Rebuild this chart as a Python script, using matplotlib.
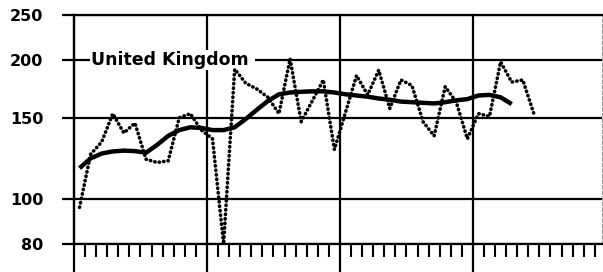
#!/usr/bin/env python

########################################################################
# United Kingdom monthly index (log scale) with smoothed trend
########################################################################

import numpy as np
import matplotlib
matplotlib.use('Agg')
import matplotlib.pyplot as plt

# monthly values, plotted at mid-month
monthly = [96, 125, 133, 153, 139, 146, 122, 120, 121, 150, 153, 141,
           135, 80, 191, 178, 173, 166, 153, 201, 147, 163, 181, 128,
           154, 185, 168, 190, 157, 181, 176, 147, 137, 175, 162, 135,
           153, 151, 198, 179, 181, 153]
trend = [116.7, 122.5, 125.5, 126.8, 127.3, 127, 126, 131, 137, 141, 143, 142.5,
         141, 141, 143, 149, 156, 163, 168.5, 170, 170.6, 171, 171, 170,
         168.5, 167.5, 166.5, 165, 164, 162.5, 162, 161.5, 161, 162, 163.5, 164.5,
         167.5, 168, 166, 160.5]
yticks = [80, 100, 150, 200, 250]
year_starts = [0, 12, 24, 36]
label = 'United Kingdom'

fig = plt.figure(figsize=(6.03, 2.72), dpi=100)
ax = fig.add_axes([74/603., 28/272., 528/603., 229/272.])

x_m = np.arange(len(monthly)) + 0.5
x_t = np.arange(len(trend)) + 0.5

ax.plot(x_m, monthly, color='black', lw=2.6, linestyle=(0, (0.1, 1.15)),
        dash_capstyle='round', zorder=3)
ax.plot(x_t, trend, color='black', lw=3.2, solid_capstyle='butt', zorder=3)

ax.set_yscale('log')
ax.set_ylim(80, 250)
ax.set_xlim(0, 47.65)

ax.set_yticks(yticks)
ax.set_yticklabels([str(v) for v in yticks], fontweight='bold', fontsize=11.5)
ax.yaxis.set_minor_locator(matplotlib.ticker.NullLocator())
ax.tick_params(axis='y', direction='out', length=8.6, width=1.6, pad=13.5)
ax.grid(axis='y', color='black', lw=1.6, zorder=1)

minor = [m for m in range(1, 48) if m not in year_starts]
ax.set_xticks(minor)
ax.set_xticklabels([])
ax.tick_params(axis='x', direction='out', length=9.4, width=1.5)

for yr in year_starts:
    ax.axvline(yr, ymin=-0.13, ymax=1, color='black', lw=1.6,
               clip_on=False, zorder=2)

for s in ['top', 'bottom', 'left']:
    ax.spines[s].set_linewidth(1.6)
ax.spines['right'].set_color('#999999')
ax.spines['right'].set_linewidth(0.8)
ax.spines['right'].set_linestyle((0, (3, 2)))

ax.text(1.5, 200, label + ' ', fontweight='bold', fontsize=12.5,
        ha='left', va='center', zorder=2.5,
        bbox=dict(facecolor='white', edgecolor='none', pad=0.6))

plt.savefig('out.png', dpi=100, facecolor='white')
plt.close()
